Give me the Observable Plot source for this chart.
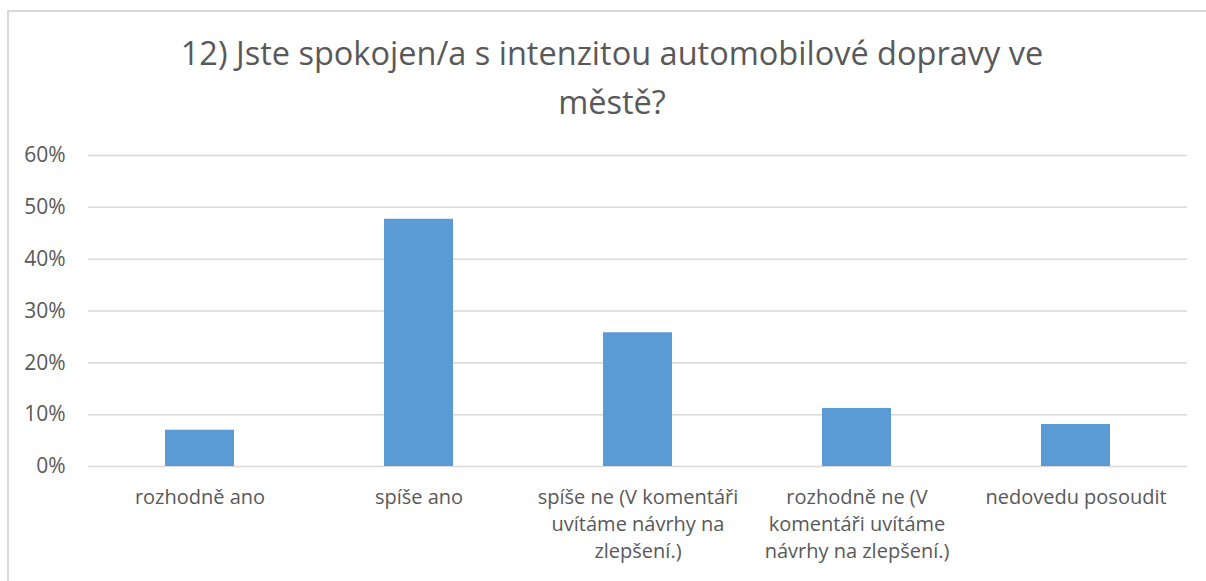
<!DOCTYPE html>
<html>
<head>
<meta charset="utf-8">
<script src="https://cdn.jsdelivr.net/npm/d3@7"></script>
<script src="https://cdn.jsdelivr.net/npm/@observablehq/plot@0.6"></script>
<style>
  html, body { margin: 0; padding: 0; background: #fff; width: 1206px; height: 581px; overflow: hidden; }
  #frame { position: absolute; left: 7px; top: 10px; width: 1220px; height: 600px; border: 2px solid #d9d9d9; box-sizing: border-box; }
  #title { position: absolute; left: 9px; top: 28px; width: 1206px; text-align: center; font-family: "Open Sans", sans-serif; font-size: 32.5px; line-height: 49px; color: #595959; white-space: nowrap; }
  #chart { position: absolute; left: 0; top: 130px; }
</style>
</head>
<body>
<div id="frame"></div>
<div id="title">12) Jste spokojen/a s intenzitou automobilové dopravy ve<br>městě?</div>
<div id="chart"></div>
<script>
const categories = [
  "rozhodně ano",
  "spíše ano",
  "spíše ne (V komentáři uvítáme návrhy na zlepšení.)",
  "rozhodně ne (V komentáři uvítáme návrhy na zlepšení.)",
  "nedovedu posoudit"
];
const categoryLabels = [
  "rozhodně ano",
  "spíše ano",
  "spíše ne (V komentáři\nuvítáme návrhy na\nzlepšení.)",
  "rozhodně ne (V\nkomentáři uvítáme\nnávrhy na zlepšení.)",
  "nedovedu posoudit"
];
const values = [0.07, 0.477, 0.258, 0.112, 0.081];
const yTicks = [0, 0.1, 0.2, 0.3, 0.4, 0.5, 0.6];

const data = categories.map((c, i) => ({category: c, value: values[i]}));
const labelOf = new Map(categories.map((c, i) => [c, categoryLabels[i]]));

const chart = Plot.plot({
  width: 1206,
  height: 451,
  marginTop: 25,
  marginBottom: 115,
  marginLeft: 88,
  marginRight: 19,
  style: {fontFamily: "'Open Sans', sans-serif", fontSize: "20px", color: "#595959", background: "transparent"},
  x: {domain: categories, paddingInner: 0.686, paddingOuter: 0.343, label: null},
  y: {domain: [0, 0.6], label: null},
  marks: [
    Plot.gridY(yTicks, {stroke: "#d9d9d9", strokeOpacity: 1, strokeWidth: 1.5}),
    Plot.barY(data, {x: "category", y: "value", fill: "#5b9bd5"}),
    Plot.axisY({ticks: yTicks, tickSize: 0, tickPadding: 23, tickFormat: d => Math.round(d * 100) + "%", fill: "#595959", fontSize: 21}),
    Plot.axisX({tickSize: 0, tickPadding: 18, tickFormat: d => labelOf.get(d), fill: "#595959", fontSize: 20, lineHeight: 1.35})
  ]
});
document.getElementById("chart").appendChild(chart);
</script>
</body>
</html>
